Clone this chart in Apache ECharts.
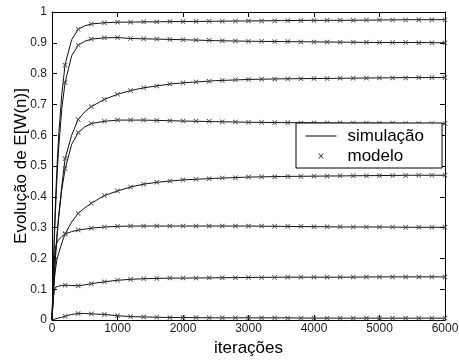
<!DOCTYPE html>
<html>
<head>
<meta charset="utf-8">
<script src="https://cdn.jsdelivr.net/npm/echarts@6/dist/echarts.min.js"></script>
<style>
  html, body { margin: 0; padding: 0; background: #ffffff; }
  #chart { width: 459px; height: 361px; }
</style>
</head>
<body>
<div id="chart"></div>
<script>
// Iterations at which the simulated curves are sampled
const simIter = [0, 20, 40, 60, 80, 100, 150, 200, 300, 400, 500, 600, 800, 1000, 1200, 1400, 1600, 1800, 2000, 2500, 3000, 3500, 4000, 4500, 5000, 5500, 6000];

// Simulated E[W(n)] for each of the eight coefficients
const sim1 = [0, 0.167, 0.306, 0.420, 0.514, 0.593, 0.733, 0.830, 0.910, 0.944, 0.955, 0.961, 0.965, 0.967, 0.967, 0.968, 0.968, 0.969, 0.969, 0.970, 0.971, 0.972, 0.973, 0.973, 0.974, 0.975, 0.975];
const sim2 = [0, 0.155, 0.284, 0.390, 0.479, 0.553, 0.687, 0.771, 0.858, 0.892, 0.905, 0.912, 0.916, 0.917, 0.914, 0.913, 0.912, 0.911, 0.910, 0.907, 0.905, 0.904, 0.903, 0.902, 0.901, 0.901, 0.900];
const sim3 = [0, 0.090, 0.165, 0.230, 0.285, 0.335, 0.435, 0.524, 0.600, 0.651, 0.676, 0.693, 0.716, 0.733, 0.745, 0.754, 0.760, 0.766, 0.770, 0.777, 0.781, 0.783, 0.784, 0.785, 0.786, 0.787, 0.787];
const sim4 = [0, 0.086, 0.161, 0.225, 0.281, 0.329, 0.424, 0.490, 0.570, 0.608, 0.627, 0.638, 0.645, 0.649, 0.649, 0.649, 0.648, 0.647, 0.646, 0.644, 0.642, 0.641, 0.640, 0.639, 0.639, 0.638, 0.638];
const sim5 = [0, 0.080, 0.140, 0.175, 0.200, 0.215, 0.250, 0.280, 0.318, 0.346, 0.364, 0.379, 0.404, 0.419, 0.432, 0.441, 0.447, 0.451, 0.455, 0.460, 0.464, 0.466, 0.467, 0.468, 0.469, 0.470, 0.470];
const sim6 = [0, 0.130, 0.210, 0.240, 0.253, 0.260, 0.271, 0.279, 0.287, 0.292, 0.295, 0.298, 0.302, 0.304, 0.305, 0.305, 0.305, 0.305, 0.305, 0.305, 0.305, 0.304, 0.303, 0.302, 0.302, 0.301, 0.301];
const sim7 = [0, 0.070, 0.100, 0.107, 0.109, 0.110, 0.112, 0.113, 0.112, 0.111, 0.114, 0.118, 0.124, 0.129, 0.132, 0.134, 0.135, 0.136, 0.136, 0.137, 0.138, 0.139, 0.139, 0.139, 0.140, 0.140, 0.140];
const sim8 = [0, 0.001, 0.003, 0.004, 0.005, 0.006, 0.009, 0.012, 0.018, 0.021, 0.021, 0.020, 0.018, 0.014, 0.011, 0.010, 0.009, 0.008, 0.008, 0.007, 0.007, 0.007, 0.006, 0.006, 0.006, 0.006, 0.006];

// Iterations at which the analytical model is evaluated
const modelIter = [200, 400, 600, 800, 1000, 1200, 1400, 1600, 1800, 2000, 2200, 2400, 2600, 2800, 3000, 3200, 3400, 3600, 3800, 4000, 4200, 4400, 4600, 4800, 5000, 5200, 5400, 5600, 5800, 6000];

// Model predictions of E[W(n)]
const model1 = [0.827, 0.944, 0.961, 0.965, 0.967, 0.967, 0.968, 0.968, 0.969, 0.969, 0.969, 0.970, 0.970, 0.970, 0.971, 0.971, 0.971, 0.972, 0.972, 0.972, 0.973, 0.973, 0.973, 0.974, 0.974, 0.974, 0.974, 0.975, 0.975, 0.975];
const model2 = [0.771, 0.892, 0.912, 0.916, 0.917, 0.914, 0.913, 0.912, 0.911, 0.910, 0.909, 0.908, 0.907, 0.906, 0.905, 0.905, 0.904, 0.904, 0.903, 0.903, 0.903, 0.902, 0.902, 0.902, 0.901, 0.901, 0.901, 0.900, 0.900, 0.900];
const model3 = [0.524, 0.651, 0.693, 0.716, 0.733, 0.745, 0.754, 0.760, 0.766, 0.770, 0.773, 0.775, 0.778, 0.780, 0.781, 0.782, 0.782, 0.783, 0.783, 0.784, 0.784, 0.785, 0.785, 0.785, 0.786, 0.786, 0.786, 0.787, 0.787, 0.787];
const model4 = [0.492, 0.609, 0.638, 0.645, 0.649, 0.649, 0.649, 0.648, 0.647, 0.646, 0.646, 0.645, 0.644, 0.643, 0.642, 0.642, 0.641, 0.641, 0.640, 0.640, 0.640, 0.640, 0.639, 0.639, 0.639, 0.639, 0.638, 0.638, 0.638, 0.638];
const model5 = [0.280, 0.346, 0.379, 0.404, 0.419, 0.432, 0.441, 0.447, 0.451, 0.455, 0.457, 0.459, 0.461, 0.462, 0.464, 0.465, 0.465, 0.466, 0.466, 0.467, 0.467, 0.468, 0.468, 0.468, 0.469, 0.469, 0.469, 0.470, 0.470, 0.470];
const model6 = [0.279, 0.292, 0.298, 0.302, 0.304, 0.305, 0.305, 0.305, 0.305, 0.305, 0.305, 0.305, 0.305, 0.305, 0.305, 0.305, 0.304, 0.304, 0.304, 0.303, 0.303, 0.303, 0.302, 0.302, 0.302, 0.302, 0.301, 0.301, 0.301, 0.301];
const model7 = [0.113, 0.111, 0.118, 0.124, 0.129, 0.132, 0.134, 0.135, 0.136, 0.136, 0.136, 0.137, 0.137, 0.137, 0.138, 0.138, 0.138, 0.139, 0.139, 0.139, 0.139, 0.139, 0.139, 0.140, 0.140, 0.140, 0.140, 0.140, 0.140, 0.140];
const model8 = [0.012, 0.021, 0.020, 0.018, 0.014, 0.011, 0.010, 0.009, 0.008, 0.008, 0.008, 0.007, 0.007, 0.007, 0.007, 0.007, 0.007, 0.006, 0.006, 0.006, 0.006, 0.006, 0.006, 0.006, 0.006, 0.006, 0.006, 0.006, 0.006, 0.006];

const simCurves = [sim1, sim2, sim3, sim4, sim5, sim6, sim7, sim8];
const modelCurves = [model1, model2, model3, model4, model5, model6, model7, model8];

const seriesNames = ['simulação', 'modelo'];
const axisTitleX = 'iterações';
const axisTitleY = 'Evolução de E[W(n)]';

const FONT = 'Arial, "Liberation Sans", Helvetica, sans-serif';
// small "x" marker drawn as a filled cross
const crossSymbol = 'path://M0,1.2L1.2,0L5,3.8L8.8,0L10,1.2L6.2,5L10,8.8L8.8,10L5,6.2L1.2,10L0,8.8L3.8,5Z';

const series = [];
simCurves.forEach(function (vals) {
  series.push({
    name: seriesNames[0],
    type: 'line',
    data: simIter.map(function (x, i) { return [x, vals[i]]; }),
    symbol: 'none',
    lineStyle: { color: '#111111', width: 1 },
    itemStyle: { color: '#111111' },
    z: 2
  });
});
modelCurves.forEach(function (vals) {
  series.push({
    name: seriesNames[1],
    type: 'line',
    data: modelIter.map(function (x, i) { return [x, vals[i]]; }),
    symbol: crossSymbol,
    symbolSize: 5,
    showAllSymbol: true,
    lineStyle: { width: 0, opacity: 0 },
    itemStyle: { color: '#4a4a4a' },
    z: 3
  });
});

const frameAxisLine = { show: true, onZero: false, lineStyle: { color: '#000', width: 1 } };
const frameTick = { show: true, inside: true, length: 5, lineStyle: { color: '#000', width: 1 } };
const plainNumber = function (v) { return String(v); };

const option = {
  backgroundColor: '#ffffff',
  animation: false,
  grid: { left: 52, right: 14, top: 12, bottom: 41, containLabel: false, outerBoundsMode: 'none' },
  legend: {
    data: [
      { name: seriesNames[0], itemStyle: { opacity: 0 }, lineStyle: { width: 1, color: '#000' } },
      { name: seriesNames[1] }
    ],
    orient: 'vertical',
    left: 296,
    top: 123,
    itemWidth: 31,
    itemHeight: 7,
    itemGap: 2,
    padding: [4, 18, 3, 9],
    borderColor: '#000',
    borderWidth: 1,
    backgroundColor: '#ffffff',
    selectedMode: false,
    textStyle: { fontFamily: FONT, fontSize: 17, color: '#000', lineHeight: 18, padding: [0, 0, 0, 6] }
  },
  xAxis: [
    {
      type: 'value', min: 0, max: 6000, interval: 1000, position: 'bottom',
      name: axisTitleX, nameLocation: 'middle', nameGap: 20, nameMoveOverlap: false,
      nameTextStyle: { fontFamily: FONT, fontSize: 17, color: '#000' },
      axisLine: frameAxisLine, axisTick: frameTick,
      axisLabel: { fontFamily: FONT, fontSize: 12, color: '#222', margin: 3, formatter: plainNumber },
      splitLine: { show: false }
    },
    {
      type: 'value', min: 0, max: 6000, interval: 1000, position: 'top',
      axisLine: frameAxisLine, axisTick: frameTick,
      axisLabel: { show: false }, splitLine: { show: false }
    }
  ],
  yAxis: [
    {
      type: 'value', min: 0, max: 1, interval: 0.1, position: 'left',
      name: axisTitleY, nameLocation: 'middle', nameGap: 22, nameMoveOverlap: false,
      nameTextStyle: { fontFamily: FONT, fontSize: 17, color: '#000' },
      axisLine: frameAxisLine, axisTick: frameTick,
      axisLabel: { fontFamily: FONT, fontSize: 12, color: '#222', margin: 5 },
      splitLine: { show: false }
    },
    {
      type: 'value', min: 0, max: 1, interval: 0.1, position: 'right',
      axisLine: frameAxisLine, axisTick: frameTick,
      axisLabel: { show: false }, splitLine: { show: false }
    }
  ],
  series: series
};

const chart = echarts.init(document.getElementById('chart'), null, { renderer: 'canvas' });
chart.setOption(option);
</script>
</body>
</html>
